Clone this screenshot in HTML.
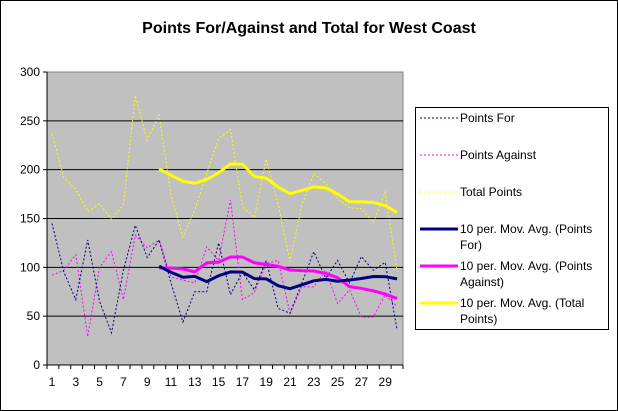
<!DOCTYPE html>
<html><head><meta charset="utf-8"><style>
body{margin:0;background:#fff;}
svg{display:block;font-family:"Liberation Sans",Arial,sans-serif;}
</style></head><body>
<svg id="s" width="618" height="411" xmlns="http://www.w3.org/2000/svg">
<rect x="0.5" y="0.5" width="617" height="410" fill="#fff" stroke="#000"/>
<text x="309" y="33" text-anchor="middle" font-size="16" font-weight="bold">Points For/Against and Total for West Coast</text>
<rect x="47" y="72" width="356" height="293" fill="#c0c0c0" stroke="#808080"/>
<g id="grid"></g>
<g id="series"></g>
<rect x="415.5" y="107.5" width="193" height="222" fill="#fff" stroke="#000"/>
<g font-size="12">
<line x1="420" y1="118" x2="458" y2="118" stroke="#000080" stroke-dasharray="2,2"/>
<text x="460" y="122">Points For</text>
<line x1="420" y1="155" x2="458" y2="155" stroke="#ff00ff" stroke-dasharray="2,2"/>
<text x="460" y="159">Points Against</text>
<line x1="420" y1="192" x2="458" y2="192" stroke="#ffff00" stroke-dasharray="2,2"/>
<text x="460" y="196">Total Points</text>
<line x1="420" y1="229" x2="458" y2="229" stroke="#000080" stroke-width="3"/>
<text x="460" y="233">10 per. Mov. Avg. (Points</text><text x="460" y="249">For)</text>
<line x1="420" y1="266" x2="458" y2="266" stroke="#ff00ff" stroke-width="3"/>
<text x="460" y="270">10 per. Mov. Avg. (Points</text><text x="460" y="286">Against)</text>
<line x1="420" y1="303" x2="458" y2="303" stroke="#ffff00" stroke-width="3"/>
<text x="460" y="307">10 per. Mov. Avg. (Total</text><text x="460" y="323">Points)</text>
</g>
</svg>
<script>
var NS="http://www.w3.org/2000/svg";
function el(p,t,a,txt){var e=document.createElementNS(NS,t);for(var k in a)e.setAttribute(k,a[k]);if(txt!=null)e.textContent=txt;p.appendChild(e);return e;}
var g=document.getElementById('grid'),s=document.getElementById('series');
function Y(v){return 365-v*293/300;}
function X(i){return 52+i*11.9;}
for(var v=0;v<=300;v+=50){var y=Y(v);if(v>0&&v<300)el(g,'line',{x1:47,x2:403,y1:y,y2:y,stroke:'#000','stroke-width':1});
el(g,'line',{x1:43,x2:47,y1:y,y2:y,stroke:'#000'});el(g,'text',{x:40,y:y+4,'text-anchor':'end','font-size':12},v);}
el(g,'line',{x1:47,x2:47,y1:72,y2:365,stroke:'#000'});el(g,'line',{x1:47,x2:403,y1:365,y2:365,stroke:'#000'});
for(var i=0;i<=30;i++){var x=47+i*356/30;el(g,'line',{x1:x,x2:x,y1:365,y2:369,stroke:'#000'});}
for(var i=0;i<30;i+=2)el(g,'text',{x:X(i),y:386,'text-anchor':'middle','font-size':12},i+1);
var F=[145,95,67,128,65,33,97,143,110,128,84,44,75,75,125,72,95,77,107,58,53,84,116,89,107,84,111,97,105,36];
var A=[92,97,113,29,100,116,67,133,120,128,90,87,84,121,107,169,67,74,104,107,53,80,80,97,63,77,49,49,72,60];
var T=F.map(function(v,i){return v+A[i];});
function pts(a,st){return a.map(function(v,i){return i<st?null:X(i)+','+Y(v);}).filter(Boolean).join(' ');}
function ma(a){return a.map(function(v,i){if(i<9)return 0;var t=0;for(var j=i-9;j<=i;j++)t+=a[j];return t/10;});}
el(s,'polyline',{points:pts(T,0),fill:'none',stroke:'#ffff00','stroke-dasharray':'2,2'});
el(s,'polyline',{points:pts(A,0),fill:'none',stroke:'#ff00ff','stroke-dasharray':'2,2'});
el(s,'polyline',{points:pts(F,0),fill:'none',stroke:'#000080','stroke-dasharray':'2,2'});
el(s,'polyline',{points:pts(ma(T),9),fill:'none',stroke:'#ffff00','stroke-width':3});
el(s,'polyline',{points:pts(ma(A),9),fill:'none',stroke:'#ff00ff','stroke-width':3});
el(s,'polyline',{points:pts(ma(F),9),fill:'none',stroke:'#000080','stroke-width':3});
</script>
</body></html>
